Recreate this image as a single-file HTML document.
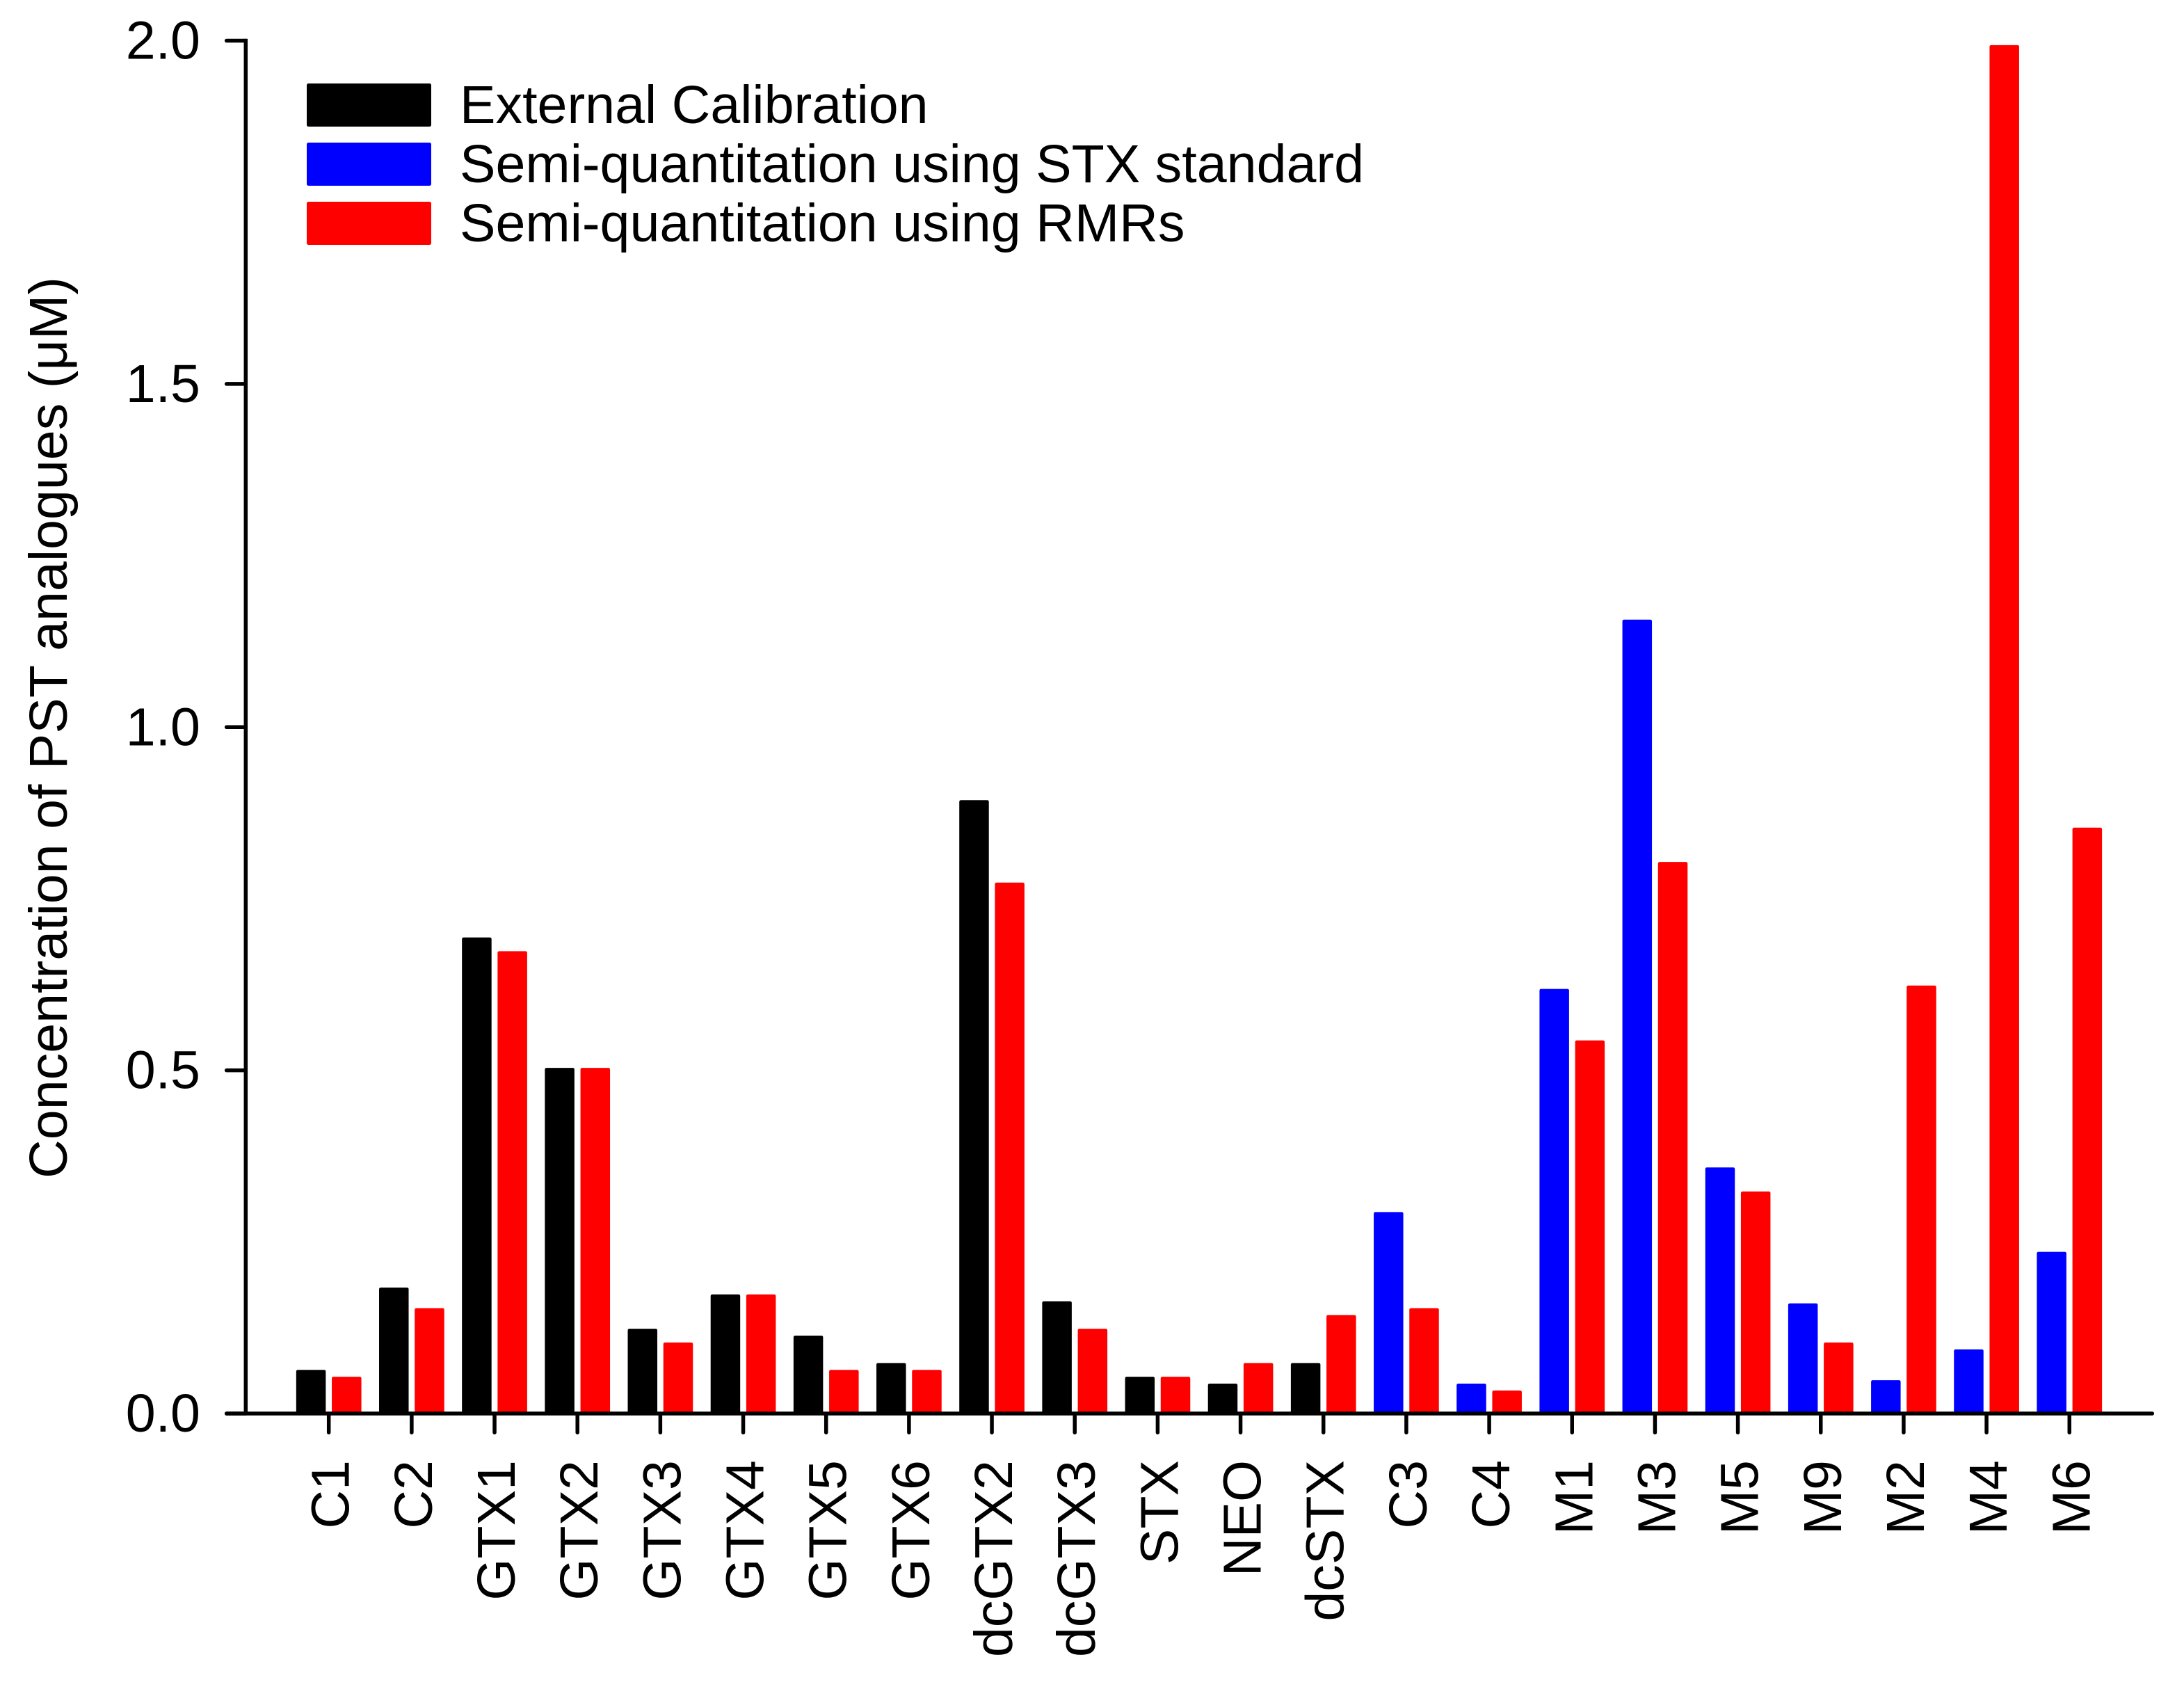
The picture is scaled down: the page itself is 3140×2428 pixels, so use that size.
<!DOCTYPE html>
<html lang="en">
<head>
<meta charset="utf-8">
<title>Concentration of PST analogues</title>
<style>
html,body{margin:0;padding:0;background:#fff}
svg{display:block}
text{font-family:"Liberation Sans",Arial,sans-serif;font-size:77.2px;fill:#000}
</style>
</head>
<body>
<svg id="chart" xmlns="http://www.w3.org/2000/svg" width="3140" height="2428" viewBox="0 0 3140 2428"></svg>
<script>
const categories = ["C1","C2","GTX1","GTX2","GTX3","GTX4","GTX5","GTX6","dcGTX2","dcGTX3","STX","NEO","dcSTX","C3","C4","M1","M3","M5","M9","M2","M4","M6"];
const externalCalibration = [0.06,0.18,0.69,0.50,0.12,0.17,0.11,0.07,0.89,0.16,0.05,0.04,0.07,null,null,null,null,null,null,null,null,null];
const stxStandard = [null,null,null,null,null,null,null,null,null,null,null,null,null,0.29,0.04,0.615,1.153,0.355,0.157,0.045,0.09,0.232];
const rmrs = [0.05,0.15,0.67,0.50,0.10,0.17,0.06,0.06,0.77,0.12,0.05,0.07,0.14,0.15,0.03,0.54,0.80,0.32,0.10,0.62,1.99,0.85];
const yTicks = [0,0.5,1,1.5,2];
const legendLabels = ["External Calibration","Semi-quantitation using STX standard","Semi-quantitation using RMRs"];
const legendColors = ["#000000","#0000ff","#ff0000"];

const NS = "http://www.w3.org/2000/svg";
const svg = document.getElementById("chart");
const yBase = 2032, yTop = 58.5, yMax = 2;
const firstTick = 472.7, tickStep = 119.17;
const barW = 42.5, barOffset = 25.6, barOutline = 3.5;
const yScale = v => yBase - (v / yMax) * (yBase - yTop);
const xScale = i => firstTick + i * tickStep;

function make(tag, attrs, text) {
  const el = document.createElementNS(NS, tag);
  for (const k in attrs) el.setAttribute(k, attrs[k]);
  if (text !== undefined) el.textContent = text;
  svg.appendChild(el);
  return el;
}
function drawBar(i, v, color, side, name) {
  const top = yScale(v) - barOutline;
  const cx = xScale(i) + side * barOffset;
  const el = make("path", {
    d: "M" + (cx - barW / 2) + " " + yBase + "V" + (top + 2.5) + "q0 -2.5 2.5 -2.5H" + (cx + barW / 2 - 2.5) + "q2.5 0 2.5 2.5V" + yBase + "Z",
    fill: color
  });
  
  
}

categories.forEach((c, i) => {
  const slug = c.toLowerCase();
  if (externalCalibration[i] !== null) drawBar(i, externalCalibration[i], "#000000", -1, "bar-external-" + slug);
  if (stxStandard[i] !== null) drawBar(i, stxStandard[i], "#0000ff", -1, "bar-stx-standard-" + slug);
  drawBar(i, rmrs[i], "#ff0000", 1, "bar-rmr-" + slug);

  const tick = make("line", {x1: xScale(i), x2: xScale(i), y1: yBase, y2: yBase + 27.3, stroke: "#000", "stroke-width": 5.5, "stroke-linecap": "round"});
  
  

  const x = xScale(i) + 29, y = 2099;
  const label = make("text", {x: x, y: y, "text-anchor": "end", transform: "rotate(-90 " + x + " " + y + ")"}, c);
  
  
});

yTicks.forEach(t => {
  const y = yScale(t);
  const tick = make("line", {x1: 325.7, x2: 353.3, y1: y, y2: y, stroke: "#000", "stroke-width": 5.5, "stroke-linecap": "round"});
  
  

  const label = make("text", {x: 288, y: y + 26, "text-anchor": "end"}, t.toFixed(1));
  
  
});

const yAxis = make("line", {x1: 353.3, x2: 353.3, y1: yTop - 2.75, y2: yBase, stroke: "#000", "stroke-width": 5.5});



const xAxis = make("line", {x1: 325.7, x2: 3094.3, y1: yBase, y2: yBase, stroke: "#000", "stroke-width": 5.5, "stroke-linecap": "round"});



const yTitle = make("text", {x: 96, y: 1046, "text-anchor": "middle", transform: "rotate(-90 96 1046)"}, "Concentration of PST analogues (μM)");



legendLabels.forEach((t, i) => {
  const swatch = make("rect", {x: 441, y: 120 + i * 85, width: 179, height: 62, rx: 2.5, fill: legendColors[i]});
  
  

  const label = make("text", {x: 661, y: 177 + i * 85}, t);
  
  
});
</script>
</body>
</html>
